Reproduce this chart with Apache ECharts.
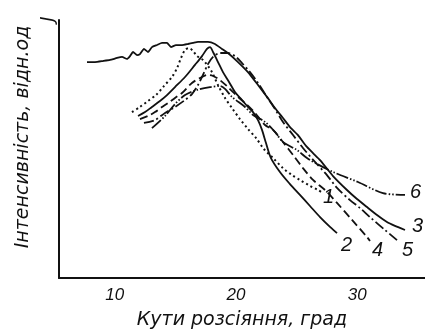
<!DOCTYPE html>
<html>
<head>
<meta charset="utf-8">
<script src="https://cdn.jsdelivr.net/npm/echarts@6/dist/echarts.min.js"></script>
<style>
html,body{margin:0;padding:0;background:#fff;}
#c{width:425px;height:336px;}
</style>
</head>
<body>
<div id="c"></div>
<script>
// Scattering angle (deg) / relative intensity (arbitrary units, 0-100)
var xTicks = [10, 20, 30];
var curve1 = [[11.42,64.3],[12.08,66.3],[12.74,68.6],[13.40,70.9],[14.06,74.4],[14.72,77.9],[15.14,81.4],[15.47,85.3],[15.80,88.4],[16.13,89.1],[16.46,88.0],[16.79,86.0],[17.28,84.5],[17.69,82.2],[18.02,79.8],[18.52,74.8],[19.10,69.8],[19.67,65.9],[20.33,61.6],[20.99,57.8],[21.65,54.3],[22.31,50.0],[23.06,46.5],[23.88,42.6],[24.62,39.9],[25.28,38.0],[26.11,35.7],[26.77,34.1],[27.18,32.9]];
var curve2 = [[11.92,62.8],[12.50,64.3],[13.07,66.3],[13.73,68.6],[14.31,70.9],[14.97,74.0],[15.80,77.9],[16.62,82.6],[17.20,86.0],[17.61,88.8],[17.86,89.5],[18.11,87.6],[18.52,83.7],[18.93,79.8],[19.43,76.0],[19.92,72.1],[20.50,69.0],[20.99,66.3],[21.41,64.3],[21.82,61.2],[22.15,57.4],[22.48,52.3],[22.89,46.5],[23.63,41.1],[24.46,36.4],[25.28,32.2],[26.11,27.9],[26.94,23.6],[27.76,19.8],[28.34,17.4]];
var curve3 = [[7.71,83.7],[8.37,83.7],[9.03,84.1],[9.61,84.5],[10.19,85.3],[10.60,85.7],[11.01,84.9],[11.26,86.0],[11.51,87.6],[11.84,86.4],[12.08,86.8],[12.41,88.8],[12.74,87.6],[13.07,89.5],[13.49,90.3],[13.90,91.1],[14.31,91.1],[14.64,89.5],[15.05,90.3],[15.55,90.3],[16.04,90.7],[16.46,91.1],[16.87,91.5],[17.28,91.5],[17.69,91.5],[18.27,90.7],[18.85,88.8],[19.34,87.2],[20.17,83.7],[20.99,79.8],[21.82,74.8],[22.56,70.2],[23.22,65.9],[23.88,62.0],[24.46,58.5],[25.12,55.4],[25.78,51.2],[26.36,48.4],[26.94,45.7],[28.01,39.5],[29.16,34.1],[29.99,30.6],[30.81,27.5],[31.64,24.4],[32.46,21.7],[33.12,20.2],[33.95,18.6]];
var curve4 = [[12.08,61.6],[12.74,62.8],[13.32,64.3],[13.90,66.3],[14.39,67.8],[14.97,69.8],[15.55,71.7],[16.37,75.6],[17.03,77.5],[17.61,78.7],[18.11,78.3],[18.68,76.7],[19.34,74.0],[20.17,70.2],[20.91,67.1],[21.57,64.0],[22.40,59.3],[23.06,57.4],[23.88,52.7],[24.71,47.7],[25.53,42.6],[26.36,38.0],[27.35,34.1],[28.34,29.1],[29.58,22.5],[30.81,15.9],[31.06,14.3]];
var curve5 = [[12.41,60.1],[13.32,61.2],[14.15,64.0],[14.97,66.3],[15.80,69.0],[16.37,71.3],[16.87,74.8],[17.28,78.7],[17.69,82.9],[18.11,85.7],[18.68,87.2],[19.34,87.2],[19.92,86.0],[20.50,83.3],[21.16,79.8],[21.82,75.6],[22.56,70.2],[23.22,65.5],[23.88,60.5],[24.71,55.4],[25.53,50.4],[26.52,45.0],[27.51,39.9],[28.34,34.9],[29.41,30.2],[30.24,27.1],[31.06,23.6],[32.30,18.6],[33.29,14.7]];
var curve6 = [[13.07,58.1],[14.15,62.8],[14.97,67.4],[15.80,70.9],[16.79,72.9],[17.86,74.0],[18.68,74.4],[19.10,73.3],[19.67,70.2],[20.75,66.3],[21.41,63.2],[22.40,60.5],[23.22,56.6],[23.88,52.7],[25.04,49.6],[25.86,46.5],[26.69,44.2],[28.01,41.1],[30.07,37.2],[32.13,32.9],[33.95,32.2]];
var curveNames = ['1','2','3','4','5','6'];

var chart = echarts.init(document.getElementById('c'), null, {renderer:'canvas'});
var INK = '#111';
var lblFont = {fontFamily:'Liberation Sans', fontStyle:'italic', fontSize:20, color:INK};
function mk(name, data, type, width, offset, smooth){
  return {
    type:'line', name:name, data:data, showSymbol:false, symbol:'none', smooth:smooth,
    lineStyle:{color:INK, width:width, type:type, cap:'butt'},
    endLabel:Object.assign({show:true, formatter:name, distance:0, offset:offset, align:'left', verticalAlign:'middle'}, lblFont),
    emphasis:{disabled:true}, silent:true
  };
}
chart.setOption({
  animation:false,
  backgroundColor:'#fff',
  grid:{left:59, top:20, right:0, bottom:58, containLabel:false},
  xAxis:{
    type:'value', min:5.4, max:35.6,
    axisLine:{show:true, onZero:false, lineStyle:{color:INK, width:2}},
    axisTick:{show:false},
    splitLine:{show:false},
    axisLabel:{customValues:xTicks, margin:9, fontFamily:'Liberation Sans', fontStyle:'italic', fontSize:17, color:INK},
    name:'Кути розсіяння, град', nameLocation:'middle', nameGap:33,
    nameTextStyle:{fontFamily:'DejaVu Sans', fontStyle:'italic', fontSize:19, color:INK}
  },
  yAxis:{
    type:'value', min:0, max:100,
    axisLine:{show:true, onZero:false, lineStyle:{color:INK, width:2}},
    axisTick:{show:false}, axisLabel:{show:false}, splitLine:{show:false}
  },
  graphic:[
    {type:'text', x:23, y:137, rotation:Math.PI/2,
     style:{text:'Інтенсивність, відн.од', font:'italic 19px "DejaVu Sans"', fill:INK, align:'center', verticalAlign:'middle'}},
    {type:'text', x:48, y:19, rotation:Math.PI/2,
     style:{text:'J', font:'italic 18px "DejaVu Sans"', fill:INK, align:'center', verticalAlign:'middle'}}
  ],
  series:[
    mk(curveNames[0], curve1, [2,3], 2, [0,4], 0.3),
    mk(curveNames[1], curve2, 'solid', 1.8, [4,12], 0.3),
    mk(curveNames[2], curve3, 'solid', 1.8, [7,-4], 0.15),
    mk(curveNames[3], curve4, [8,4], 1.8, [2,9], 0.3),
    mk(curveNames[4], curve5, [10,3,2,3], 1.8, [5,10], 0.3),
    mk(curveNames[5], curve6, [12,2,1.5,2,1.5,2], 1.8, [5,-2], 0.3)
  ]
});
</script>
</body>
</html>
